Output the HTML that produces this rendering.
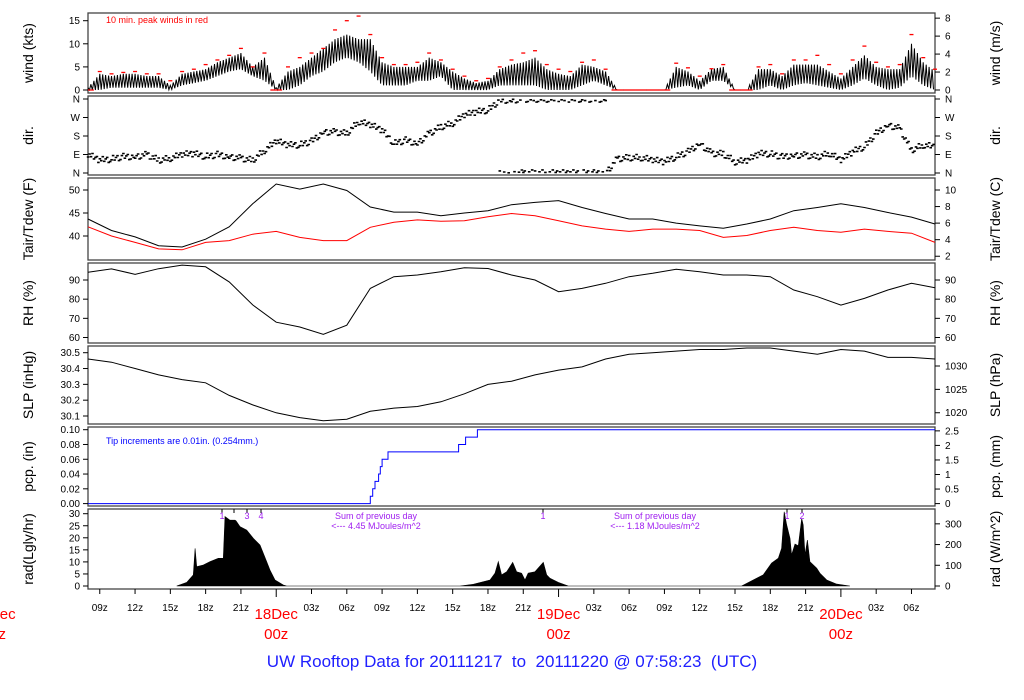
<!DOCTYPE html>
<html><head><meta charset="utf-8">
<style>
html,body{margin:0;padding:0;background:#fff;}
svg{display:block;font-family:"Liberation Sans",sans-serif;}
</style></head>
<body>
<svg id="chart" width="1024" height="700" viewBox="0 0 1024 700" xmlns="http://www.w3.org/2000/svg"></svg>
<script>
// ---- data (hourly from t=8h to 80h after 17Dec 00z) ----
const windLo=[0,0,.5,.5,.5,.5,.5,0,1,1.5,2,3,4,4.5,3,2,0,0,1,3,4,6,7,6,4,1,1,1,2,2,3,0,0,0,0,1,1,1,1,0,0,0,1,2,1,0,0,0,0,0,.5,1,0,2,2,0,0,0,1,0,1,1.5,1,.5,0,1,2.5,1,0,.5,3,1,0];
const windHi=[.5,3.5,3,3.5,3.5,3,3,1,3.5,4,4.5,6,7,8,5,7,.5,4,5,7,9,11,12,11,11,6,5,5,5,7,6,4,2.5,1.5,2,4.5,5.5,6,7,4.5,3.5,3,5.5,5,4,0,0,0,0,0,5,4,2,4.5,5,0,0,4.5,4.5,3,5.5,5.5,5.5,4,2.5,5,7.5,5,4.5,4.5,10,6,4];
const windPeak=[0,4,3.5,3.8,4,3.5,3.5,2,4,4.5,5.5,6.5,7.5,9,5,8,0,5,7,8,9,13,15,16,12,7,5.5,5.5,6,8,6.5,4.5,3,2,2.5,5,6.5,8,8.5,5.5,4.5,4,6,6.5,4.5,0,0,0,0,0,5.8,4.8,3,4.6,5.5,0,0,5,5.5,3.5,6.5,6.5,7.5,5.5,3.5,6.5,9.5,6,5,5.5,12,7,4.5];
const windDir=[90,63,68,80,80,90,63,72,90,95,80,90,80,72,63,110,155,137,137,155,200,200,193,250,234,209,144,160,144,193,225,242,282,298,306,355,355,0,0,0,0,0,0,0,0,70,75,75,63,55,79,104,144,96,94,55,60,94,94,79,87,87,79,96,63,104,128,193,234,217,112,136,128];
// 2-hourly from t=8h
const tair=[43.7,41.2,39.8,37.9,37.6,39.3,42,47,51.3,50.2,51.3,49.9,46.3,45.2,45.2,44.4,45,45.5,46.8,47.3,47.7,46.2,44.9,43.7,43.7,42.8,42.2,41.7,42.6,43.7,45.5,46.2,47,46.2,45.1,44.1,42.6];
const tdew=[42,40,38.6,37.2,37,38.6,39,40.4,41,39.7,39,39,41.9,43,43.5,43.2,43.3,44.2,44.9,44.4,43.3,42.2,41.5,41,41.5,41.5,41.2,39.7,40.1,41.2,41.9,41.2,40.8,41.5,41,40.6,38.6];
const rh=[94,95.8,93,95.9,97.8,96.9,89,77,68,65.5,61.6,66.4,85.6,91.7,92.6,94.3,96.4,96,92.6,90,83.9,85.6,88.3,91.7,93.5,95.6,94.3,92.6,92.6,91.7,84.8,81.3,76.9,80.4,84.8,88.3,86];
const slp=[30.46,30.44,30.40,30.36,30.33,30.31,30.23,30.17,30.12,30.09,30.07,30.08,30.13,30.15,30.16,30.19,30.24,30.30,30.32,30.36,30.39,30.41,30.46,30.49,30.50,30.51,30.52,30.52,30.53,30.53,30.51,30.49,30.52,30.51,30.47,30.47,30.46];
const tipTimes=[32.0,32.2,32.4,32.7,32.85,33.0,33.5,39.5,40.1,41.1];
const radT=[15.54,16.39,16.95,17.1,17.24,17.8,18.37,19.08,19.5,19.65,20.07,20.5,20.58,20.92,21.49,22.05,22.62,23.19,23.47,23.9,24.6,24.88,
 39.62,40.75,42.17,42.6,42.88,43.16,43.59,44.1,44.43,44.86,45.15,45.42,45.99,46.7,46.99,47.27,47.98,48.83,
 63.56,64.55,65.4,66.11,66.68,66.96,67.18,67.39,67.67,67.81,68.1,68.38,68.67,68.8,68.95,69.15,69.37,69.94,70.22,70.79,71.64,72.77];
const radV=[0,1.5,4.6,15.6,8,8.7,10.1,11.5,11.5,28.8,27.3,27.3,27,24.6,23.2,19.8,17,10.1,6.6,2.5,0.4,0,
 0,0.7,2.5,5.3,10.1,4.6,5.9,9.8,5.9,5.3,2.5,5.3,5.9,9.8,4.6,3.2,1.5,0,
 0,2.5,4.6,9.5,11.5,15.6,30.8,25.3,19.8,12.9,17.4,16.7,28,25.3,12.9,19.1,10.1,7.4,5.3,2.5,0.8,0];
const timeTicks=[9,12,15,18,21,27,30,33,36,39,42,45,51,54,57,60,63,66,69,75,78];
const timeTickLabels=["09z","12z","15z","18z","21z","03z","06z","09z","12z","15z","18z","21z","03z","06z","09z","12z","15z","18z","21z","03z","06z"];
const dayTicks=[0,24,48,72];
const dayLabels=["17Dec","18Dec","19Dec","20Dec"];

// ---- layout ----
const NS="http://www.w3.org/2000/svg";
const svg=document.getElementById('chart');
const T0=8,T1=80,X0=88,X1=935;
function X(t){return X0+(t-T0)*(X1-X0)/(T1-T0);}
function lin(v0,y0,v1,y1){return v=>y0+(v-v0)*(y1-y0)/(v1-v0);}
function el(tag,attrs,parent){const e=document.createElementNS(NS,tag);for(const k in attrs)e.setAttribute(k,attrs[k]);(parent||svg).appendChild(e);return e;}
function txt(s,x,y,size,fill,anchor,parent){const e=el('text',{x:x,y:y,'font-size':size,fill:fill||'#000','text-anchor':anchor||'middle'},parent);e.textContent=s;return e;}

const panels=[
 {name:'wind',top:13,bot:93,title:'wind (kts)',rtitle:'wind (m/s)'},
 {name:'dir',top:96,bot:175,title:'dir.',rtitle:'dir.'},
 {name:'temp',top:178,bot:260,title:'Tair/Tdew (F)',rtitle:'Tair/Tdew (C)'},
 {name:'rh',top:263,bot:343,title:'RH (%)',rtitle:'RH (%)'},
 {name:'slp',top:346,bot:424,title:'SLP (inHg)',rtitle:'SLP (hPa)'},
 {name:'pcp',top:427,bot:506,title:'pcp.  (in)',rtitle:'pcp.  (mm)'},
 {name:'rad',top:509,bot:589,title:'rad(Lgly/hr)',rtitle:'rad (W/m^2)'}
];
panels.forEach(p=>{
 const g=el('g',{});
 
 
 const r=el('rect',{x:X0,y:p.top,width:X1-X0,height:p.bot-p.top,fill:'#fff',stroke:'#444','stroke-width':1.3},g);
 
 
 const cy=(p.top+p.bot)/2;
 const lt=txt(p.title,0,0,14,'#000','middle',g);
 lt.setAttribute('transform','translate(33,'+cy+') rotate(-90)');
 
 
 const rt=txt(p.rtitle,0,0,14,'#000','middle',g);
 rt.setAttribute('transform','translate(1000,'+cy+') rotate(-90)');
 
 
 p.g=g;
});
function leftTick(p,y,label){
 el('line',{x1:83,x2:X0,y1:y,y2:y,stroke:'#000','stroke-width':1},p.g);
 const t=txt(label,80,y+3.5,10,'#000','end',p.g);
 
 
}
function rightTick(p,y,label){
 el('line',{x1:X1,x2:X1+5,y1:y,y2:y,stroke:'#000','stroke-width':1},p.g);
 const t=txt(label,945,y+3.5,10,'#000','start',p.g);
 
 
}
function pathFrom(pts){return pts.map((p,i)=>(i?'L':'M')+p[0].toFixed(1)+','+p[1].toFixed(1)).join('');}

// ---- wind ----
const pw=panels[0]; const yW=lin(0,90,15,20.7);
[0,5,10,15].forEach(v=>leftTick(pw,yW(v),String(v)));
[0,2,4,6,8].forEach(v=>rightTick(pw,yW(v*1.944),String(v)));
(function(){
 const pts=[];const SUB=8;
 for(let i=0;i<windLo.length-1;i++){
  for(let k=0;k<SUB;k++){
   const f=k/SUB;
   const v=(k%2)?windLo[i]+(windLo[i+1]-windLo[i])*f:windHi[i]+(windHi[i+1]-windHi[i])*f;
   pts.push([X(8+i+f),yW(v)]);
  }
 }
 const line=el('path',{d:pathFrom(pts),fill:'none',stroke:'#000','stroke-width':1},pw.g);
 
 
 windPeak.forEach((v,i)=>{
  const t=8+i;
  if(v<=0){
   const l=el('line',{x1:X(Math.max(T0,t-0.5)),x2:X(Math.min(T1,t+0.5)),y1:yW(0),y2:yW(0),stroke:'#f00','stroke-width':1.3},pw.g);
   
   
  } else {
   const d=el('line',{x1:X(t)-2,x2:X(t)+2,y1:yW(v),y2:yW(v),stroke:'#f00','stroke-width':1.3},pw.g);
   
   
  }
 });
 const n=txt('10 min. peak winds in red',106,23,9,'#f00','start',pw.g);
 
 
})();

// ---- direction ----
const pd=panels[1]; const yD=lin(0,173,360,99);
[[0,'N'],[90,'E'],[180,'S'],[270,'W'],[360,'N']].forEach(a=>{leftTick(pd,yD(a[0]),a[1]);rightTick(pd,yD(a[0]),a[1]);});
(function(){
 const jit=[-12,6,-4,15,-8,3,10,-15];
 let d='';
 for(let i=0;i<windDir.length-1;i++){
  let a=windDir[i],b=windDir[i+1];
  if(b-a>180)b-=360; if(a-b>180)b+=360;
  for(let k=0;k<8;k++){
   let v=a+(b-a)*k/8+jit[(k+i)%8];
   v=((v%360)+360)%360;
   const x=X(8+i+k/8),y=yD(v);
   d+='M'+(x-1.2).toFixed(1)+','+y.toFixed(1)+'h2.6';
  }
 }
 const p=el('path',{d:d,stroke:'#000','stroke-width':1.6,fill:'none'},pd.g);
 
 
})();

// ---- temperature ----
const pt=panels[2]; const yT=lin(50,190,40,236);
[40,45,50].forEach(v=>leftTick(pt,yT(v),String(v)));
[2,4,6,8,10].forEach(c=>rightTick(pt,yT(c*1.8+32),String(c)));
(function(){
 const a=el('path',{d:pathFrom(tdew.map((v,i)=>[X(8+2*i),yT(v)])),fill:'none',stroke:'#f00','stroke-width':1},pt.g);
 
 
 const b=el('path',{d:pathFrom(tair.map((v,i)=>[X(8+2*i),yT(v)])),fill:'none',stroke:'#000','stroke-width':1},pt.g);
 
 
})();

// ---- RH ----
const pr=panels[3]; const yR=lin(90,280,60,337.5);
[60,70,80,90].forEach(v=>{leftTick(pr,yR(v),String(v));rightTick(pr,yR(v),String(v));});
(function(){
 const a=el('path',{d:pathFrom(rh.map((v,i)=>[X(8+2*i),yR(v)])),fill:'none',stroke:'#000','stroke-width':1},pr.g);
 
 
})();

// ---- SLP ----
const ps=panels[4]; const yS=lin(30.5,352.7,30.1,416);
[30.1,30.2,30.3,30.4,30.5].forEach(v=>leftTick(ps,yS(v),v.toFixed(1)));
[1020,1025,1030].forEach(h=>rightTick(ps,yS(h*0.02953),String(h)));
(function(){
 const a=el('path',{d:pathFrom(slp.map((v,i)=>[X(8+2*i),yS(v)])),fill:'none',stroke:'#000','stroke-width':1},ps.g);
 
 
})();

// ---- precip ----
const pp=panels[5]; const yP=lin(0,503.6,0.1,429.7);
[0,0.02,0.04,0.06,0.08,0.10].forEach(v=>leftTick(pp,yP(v),v.toFixed(2)));
[0,0.5,1,1.5,2,2.5].forEach(m=>rightTick(pp,yP(m/25.4),String(m)));
(function(){
 const pts=[[X(T0),yP(0)]];let c=0;
 tipTimes.forEach(t=>{pts.push([X(t),yP(c)]);c+=0.01;pts.push([X(t),yP(c)]);});
 pts.push([X(T1),yP(c)]);
 const a=el('path',{d:pathFrom(pts),fill:'none',stroke:'#00f','stroke-width':1},pp.g);
 
 
 const n=txt('Tip increments are 0.01in. (0.254mm.)',106,444,9,'#00f','start',pp.g);
 
 
})();

// ---- radiation ----
const pa=panels[6]; const yA=lin(0,586,30,513.7);
[0,5,10,15,20,25,30].forEach(v=>leftTick(pa,yA(v),String(v)));
[0,100,200,300].forEach(w=>rightTick(pa,yA(w/11.63),String(w)));
(function(){
 const pts=radT.map((t,i)=>[X(t),yA(radV[i])]);
 const a=el('path',{d:pathFrom(pts)+'Z',fill:'#000',stroke:'#000','stroke-width':0.6},pa.g);
 
 
 const purple='#a020f0';
 [[222,'1'],[234,''],[247,'3'],[261,'4'],[543,'1'],[787,'1'],[802,'2']].forEach(m=>{
  el('line',{x1:m[0],x2:m[0],y1:509,y2:513,stroke:'#000','stroke-width':1},pa.g);
  if(m[1]){const t=txt(m[1],m[0],519,9,purple,'middle',pa.g);
   
   }
 });
 [[376,'4.45'],[655,'1.18']].forEach(s=>{
  const a1=txt('Sum of previous day',s[0],519,9,purple,'middle',pa.g);
  
  
  const a2=txt('<--- '+s[1]+' MJoules/m^2',s[0],529,9,purple,'middle',pa.g);
  
  
 });
})();

// ---- time axis ----
(function(){
 const g=el('g',{});
 
 
 timeTicks.forEach((t,i)=>{
  el('line',{x1:X(t),x2:X(t),y1:589,y2:594,stroke:'#000','stroke-width':1},g);
  const l=txt(timeTickLabels[i],X(t),611,10,'#000','middle',g);
  
  
 });
 dayTicks.forEach((t,i)=>{
  if(t>=T0)el('line',{x1:X(t),x2:X(t),y1:589,y2:597,stroke:'#000','stroke-width':1},g);
  const d=txt(dayLabels[i],X(t),619,15,'#f00','middle',g);
  
  
  const z=txt('00z',X(t),639,15,'#f00','middle',g);
  
  
 });
 const ti=txt('UW Rooftop Data for 20111217  to  20111220 @ 07:58:23  (UTC)',512,667,17,'#2020ff','middle');
 ti.setAttribute('xml:space','preserve');
 ti.setAttribute('style','white-space:pre');
 
 
})();
</script>
</body></html>
